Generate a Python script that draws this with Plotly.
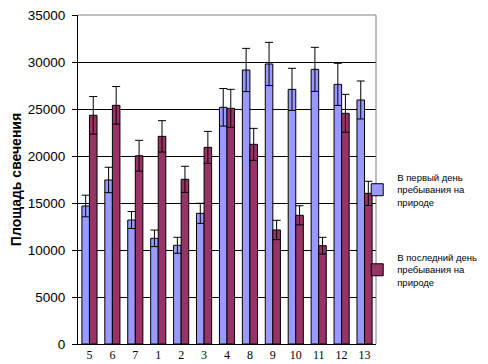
import plotly.graph_objects as go

categories = ["5", "6", "7", "1", "2", "3", "4", "8", "9", "10", "11", "12", "13"]
first_day = [14680, 17450, 13190, 11240, 10500, 13900, 25180, 29150, 29790, 27090, 29220, 27620, 25960]
first_err = [1150, 1350, 900, 880, 850, 1070, 2000, 2300, 2300, 2240, 2340, 2240, 2020]
last_day = [24330, 25390, 20030, 22090, 17520, 20920, 25070, 21240, 12130, 13690, 10460, 24540, 16030]
last_err = [2000, 2000, 1640, 1670, 1390, 1700, 2020, 1700, 1030, 1020, 890, 2020, 1280]
y_ticks = [0, 5000, 10000, 15000, 20000, 25000, 30000, 35000]

fig = go.Figure()
fig.add_trace(go.Bar(
    x=categories, y=first_day, name="В первый день<br>пребывания на<br>природе",
    legendgroup="g1",
    marker=dict(color="#9999FF", line=dict(color="black", width=1)),
    error_y=dict(type="data", array=first_err, visible=True, color="black", thickness=1, width=4),
))
fig.add_trace(go.Bar(
    x=categories, y=last_day, name="В последний день<br>пребывания на<br>природе",
    legendgroup="g2",
    marker=dict(color="#993366", line=dict(color="black", width=1)),
    error_y=dict(type="data", array=last_err, visible=True, color="black", thickness=1, width=4),
))

# page body has an 8px default margin; figure sized/margined to compensate
fig.update_layout(
    width=480, height=356,
    margin=dict(l=70, r=112, t=7, b=20, autoexpand=False),
    paper_bgcolor="white", plot_bgcolor="white",
    barmode="group", bargap=0.34, bargroupgap=0,
    font=dict(family="Liberation Sans, Arial", size=12, color="black"),
    showlegend=True,
    legend=dict(x=0.937, y=0.545, xanchor="left", yanchor="top",
                font=dict(size=9.5, family="Liberation Sans, Arial"),
                tracegroupgap=40, bgcolor="rgba(0,0,0,0)", itemwidth=30),
    xaxis=dict(type="category", showgrid=False, showline=True, linecolor="black",
               linewidth=1, mirror=False, ticks="", tickfont=dict(family="Liberation Serif, Times New Roman", size=12)),
    yaxis=dict(range=[0, 35000], tickvals=y_ticks, tickformat="d", showgrid=True, gridcolor="black", gridwidth=1,
               showline=True, linecolor="black", linewidth=1, ticks="outside", ticklen=5,
               tickcolor="black", zeroline=False, ticklabeloverflow="allow", ticklabelstandoff=4,
               tickfont=dict(size=13.5, family="Liberation Sans, Arial"),
               title=dict(text="<b>Площадь свечения</b>", font=dict(size=14, family="Liberation Sans, Arial"), standoff=17)),
)
# gray border on top and right of plot area
fig.add_shape(type="line", xref="paper", yref="paper", x0=0, x1=1, y0=1, y1=1, line=dict(color="#808080", width=1))
fig.add_shape(type="line", xref="paper", yref="paper", x0=1, x1=1, y0=0, y1=1, line=dict(color="#808080", width=1))

fig.write_html("out.html")
